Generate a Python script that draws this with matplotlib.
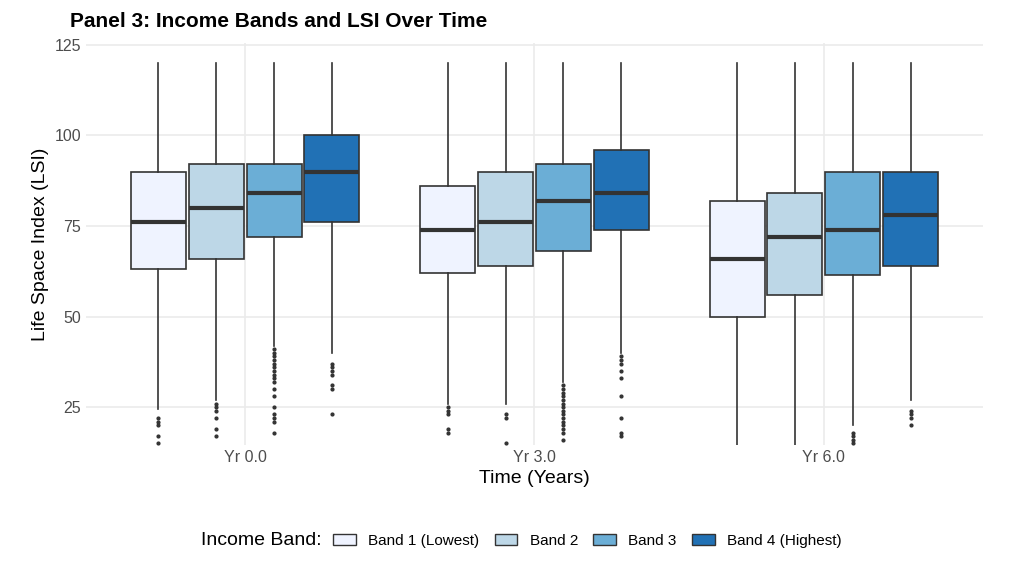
import matplotlib
matplotlib.use("Agg")
import matplotlib.pyplot as plt
from matplotlib.patches import Patch

plt.rcParams['font.family'] = ['Liberation Sans', 'DejaVu Sans']

times = ["Yr 0.0", "Yr 3.0", "Yr 6.0"]
bands = ["Band 1 (Lowest)", "Band 2", "Band 3", "Band 4 (Highest)"]
colors = ["#EFF3FF", "#BDD7E7", "#6BAED6", "#2171B5"]

# [time][band]
q1 = [[63, 66, 72, 76], [62, 64, 68, 74], [50, 56, 61.5, 64]]
med = [[76, 80, 84, 90], [74, 76, 82, 84], [66, 72, 74, 78]]
q3 = [[90, 92, 92, 100], [86, 90, 92, 96], [82, 84, 90, 90]]
whislo = [[24.5, 27, 42, 40], [26, 26, 32, 40], [10, 10, 20, 27]]
whishi = [[120, 120, 120, 120], [120, 120, 120, 120], [120, 120, 120, 120]]
fliers = [
    [[22, 21, 20, 17, 15], [26, 25, 24, 22, 19, 17],
     [41, 40, 39, 38, 37, 36, 35, 34, 33, 32, 30, 28, 25, 23, 22, 21, 18],
     [37, 36, 35, 34, 31, 30, 23]],
    [[25, 24, 23, 19, 18], [23, 22, 15],
     [31, 30, 29, 28, 27, 26, 25, 24, 23, 22, 21, 20, 19, 18, 16],
     [39, 38, 37, 35, 33, 28, 22, 18, 17]],
    [[], [], [18, 17, 16, 15], [24, 23, 22, 20]],
]

fig = plt.figure(figsize=(10.09, 5.74), dpi=100)
ax = fig.add_axes([0.0852, 0.225, 0.889, 0.700])
dodge = 0.2
for t in range(3):
    for b in range(4):
        st = dict(med=med[t][b], q1=q1[t][b], q3=q3[t][b], whislo=whislo[t][b],
                  whishi=whishi[t][b], fliers=fliers[t][b])
        pos = t + 1 + (b - 1.5) * dodge
        ax.bxp([st], positions=[pos], widths=0.19, patch_artist=True, showcaps=False,
               boxprops=dict(facecolor=colors[b], edgecolor="#333333", linewidth=1.2),
               medianprops=dict(color="#333333", linewidth=3),
               whiskerprops=dict(color="#333333", linewidth=1.2),
               flierprops=dict(marker="o", markersize=2, markerfacecolor="#333333",
                               markeredgecolor="#333333"))
ax.set_xlim(0.45, 3.55)
ax.set_ylim(14.6, 125.5)
ax.set_xticks([1, 2, 3])
ax.set_xticklabels(times)
ax.set_yticks([25, 50, 75, 100, 125])
ax.tick_params(length=0, labelsize=11.5, colors="#4d4d4d")
ax.grid(True, color="#ebebeb", linewidth=1.2)
ax.set_axisbelow(True)
for s in ax.spines.values():
    s.set_visible(False)
ax.set_xlabel("Time (Years)", fontsize=14)
ax.set_ylabel("Life Space Index (LSI)", fontsize=14)
fig.text(0.069, 0.962, "Panel 3: Income Bands and LSI Over Time", fontsize=15,
         fontweight="bold", va="center")
fig.text(0.199, 0.058, "Income Band:", fontsize=14, va="center")
handles = [Patch(facecolor=c, edgecolor="#333333", label=l) for c, l in zip(colors, bands)]
fig.legend(handles=handles, loc="center left", bbox_to_anchor=(0.33, 0.058), ncol=4,
           frameon=False, fontsize=11, handlelength=1.5, columnspacing=1.0,
           borderaxespad=0, borderpad=0)
fig.savefig("out.png", dpi=100, facecolor="white")
